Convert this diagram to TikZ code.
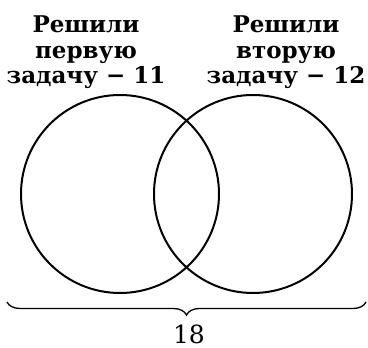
\documentclass[tikz,border=0pt]{standalone}
\usepackage{fontspec}
\setmainfont{DejaVu Serif}
\usetikzlibrary{positioning,decorations.pathreplacing}

\begin{document}
\begin{tikzpicture}[
    x=1pt, y=1pt,
    set/.style={draw, circle, line width=2pt, minimum size=198pt, inner sep=0pt},
    label/.style={font=\bfseries\fontsize{23}{25.5}\selectfont, align=center, inner sep=0pt},
    total/.style={decorate, decoration={brace, mirror, amplitude=13pt}, line width=1.3pt},
  ]
  \useasboundingbox (0,0) rectangle (368,348);

  % --- geometry ---
  \def\cy{154}
  \def\ax{120} \def\bx{253}

  % --- the two sets ---
  \node[set] (first)  at (\ax,\cy) {};
  \node[set] (second) at (\bx,\cy) {};

  % --- labels above ---
  \node[label, anchor=north] (firstlbl)  at (86,332) {Решили\\первую\\задачу − 11};
  \node[label, anchor=north] (secondlbl) at (286,332) {Решили\\вторую\\задачу − 12};

  % --- brace under everything ---
  \coordinate (bl) at (7,46);
  \coordinate (br) at (366,46);
  \draw[total] (bl) -- (br);
  \node[font=\fontsize{25}{26}\selectfont, inner sep=1pt] (sum) at (189,14) {18};
\end{tikzpicture}
\end{document}
